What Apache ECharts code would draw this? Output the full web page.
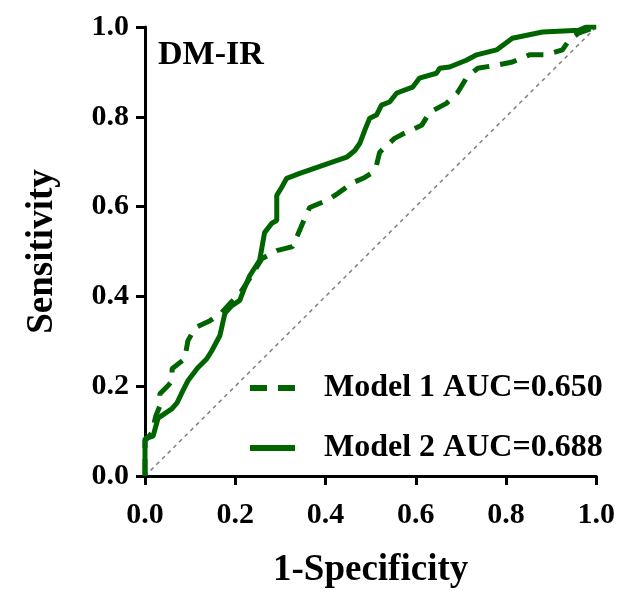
<!DOCTYPE html>
<html>
<head>
<meta charset="utf-8">
<script src="https://cdn.jsdelivr.net/npm/echarts@6/dist/echarts.min.js"></script>
<style>
  html, body { margin: 0; padding: 0; background: #fff; }
  #chart_1 { width: 618px; height: 595px; }
</style>
</head>
<body>
<div id="chart_1"></div>
<script>
//*************************************************************************************************data
// ROC points: [1-specificity, sensitivity]
var model_1_points = [
    [0, 0], [0, 0.078], [0.015, 0.096], [0.024, 0.134], [0.033, 0.156], [0.033, 0.183],
    [0.051, 0.201], [0.060, 0.212], [0.060, 0.239], [0.088, 0.261], [0.095, 0.301],
    [0.111, 0.330], [0.144, 0.346], [0.170, 0.364], [0.188, 0.384], [0.210, 0.406],
    [0.232, 0.440], [0.259, 0.484], [0.292, 0.502], [0.327, 0.511], [0.338, 0.536],
    [0.354, 0.574], [0.365, 0.598], [0.403, 0.614], [0.427, 0.629], [0.458, 0.652],
    [0.487, 0.665], [0.504, 0.676], [0.513, 0.692], [0.520, 0.721], [0.553, 0.752],
    [0.580, 0.766], [0.613, 0.781], [0.631, 0.810], [0.668, 0.830], [0.692, 0.853],
    [0.712, 0.886], [0.737, 0.908], [0.779, 0.915], [0.814, 0.922], [0.852, 0.938],
    [0.889, 0.938], [0.925, 0.949], [0.940, 0.971], [0.962, 0.987], [1, 1]
];
var model_2_points = [
    [0, 0], [0, 0.083], [0.018, 0.089], [0.029, 0.129], [0.060, 0.150], [0.071, 0.163],
    [0.084, 0.190], [0.095, 0.212], [0.117, 0.241], [0.137, 0.261], [0.148, 0.279],
    [0.166, 0.313], [0.177, 0.362], [0.192, 0.379], [0.210, 0.391], [0.221, 0.420],
    [0.232, 0.446], [0.254, 0.480], [0.265, 0.542], [0.281, 0.563], [0.292, 0.569],
    [0.292, 0.625], [0.303, 0.643], [0.314, 0.663], [0.343, 0.674], [0.394, 0.692],
    [0.447, 0.710], [0.465, 0.725], [0.476, 0.741], [0.487, 0.770], [0.498, 0.797],
    [0.513, 0.804], [0.524, 0.826], [0.542, 0.833], [0.558, 0.853], [0.593, 0.866],
    [0.608, 0.886], [0.646, 0.897], [0.653, 0.908], [0.675, 0.911], [0.712, 0.926],
    [0.735, 0.938], [0.779, 0.949], [0.814, 0.975], [0.881, 0.989], [0.962, 0.993],
    [0.978, 1.0], [1, 1]
];
var chance_points = [[0, 0], [1, 1]];
var series_names = ['Model 1 AUC=0.650', 'Model 2 AUC=0.688'];
var panel_title = 'DM-IR';
var x_name = '1-Specificity';
var y_name = 'Sensitivity';

//*************************************************************************************************chart
var font = '"Liberation Serif", "Times New Roman", serif';
var green = '#006400';
var dash_1 = [17, 11];

var chart_1 = echarts.init(document.getElementById('chart_1'));
var option_1 = {
    backgroundColor: '#fff',
    animation: false,
    title: {
        text: panel_title,
        left: 153,
        top: 33,
        textStyle: { fontFamily: font, fontWeight: 'bold', fontSize: 34, color: '#000' }
    },
    grid: { left: 145, top: 27, right: 21, bottom: 119, containLabel: false },
    legend: {
        orient: 'vertical',
        left: 247,
        top: 372,
        padding: 0,
        itemWidth: 45,
        itemHeight: 14,
        itemGap: 28,
        data: [
            {
                name: series_names[0],
                itemStyle: { opacity: 0 },
                lineStyle: { color: green, width: 6, type: dash_1, opacity: 1 }
            },
            {
                name: series_names[1],
                itemStyle: { opacity: 0 },
                lineStyle: { color: green, width: 6, type: 'solid', opacity: 1 }
            }
        ],
        textStyle: {
            fontFamily: font, fontWeight: 'bold', fontSize: 32, color: '#000',
            padding: [0, 0, 0, 24]
        }
    },
    xAxis: {
        type: 'value',
        min: 0, max: 1, interval: 0.2,
        name: x_name,
        nameLocation: 'middle',
        nameGap: 76,
        nameTextStyle: { fontFamily: font, fontWeight: 'bold', fontSize: 37, color: '#000' },
        axisLine: { show: true, lineStyle: { color: '#000', width: 3 } },
        axisTick: { show: true, length: 9, lineStyle: { color: '#000', width: 3 } },
        axisLabel: {
            margin: 24,
            fontFamily: font, fontWeight: 'bold', fontSize: 30, color: '#000',
            formatter: function (v) { return v.toFixed(1); }
        },
        splitLine: { show: false }
    },
    yAxis: {
        type: 'value',
        min: 0, max: 1, interval: 0.2,
        name: y_name,
        nameLocation: 'middle',
        nameGap: 84,
        nameTextStyle: { fontFamily: font, fontWeight: 'bold', fontSize: 37, color: '#000' },
        axisLine: { show: true, lineStyle: { color: '#000', width: 3 } },
        axisTick: { show: true, length: 9, lineStyle: { color: '#000', width: 3 } },
        axisLabel: {
            margin: 16,
            fontFamily: font, fontWeight: 'bold', fontSize: 30, color: '#000',
            formatter: function (v) { return v.toFixed(1); }
        },
        splitLine: { show: false }
    },
    series: [
        {
            name: 'chance',
            type: 'line',
            data: chance_points,
            symbol: 'none',
            silent: true,
            z: 1,
            lineStyle: { color: '#808080', width: 1.5, type: [4, 4] }
        },
        {
            name: series_names[0],
            type: 'line',
            data: model_1_points,
            symbol: 'none',
            z: 2,
            itemStyle: { color: green },
            lineStyle: { color: green, width: 5, type: dash_1 }
        },
        {
            name: series_names[1],
            type: 'line',
            data: model_2_points,
            symbol: 'none',
            z: 3,
            itemStyle: { color: green },
            lineStyle: { color: green, width: 5, type: 'solid' }
        }
    ]
};
chart_1.setOption(option_1);
</script>
</body>
</html>
